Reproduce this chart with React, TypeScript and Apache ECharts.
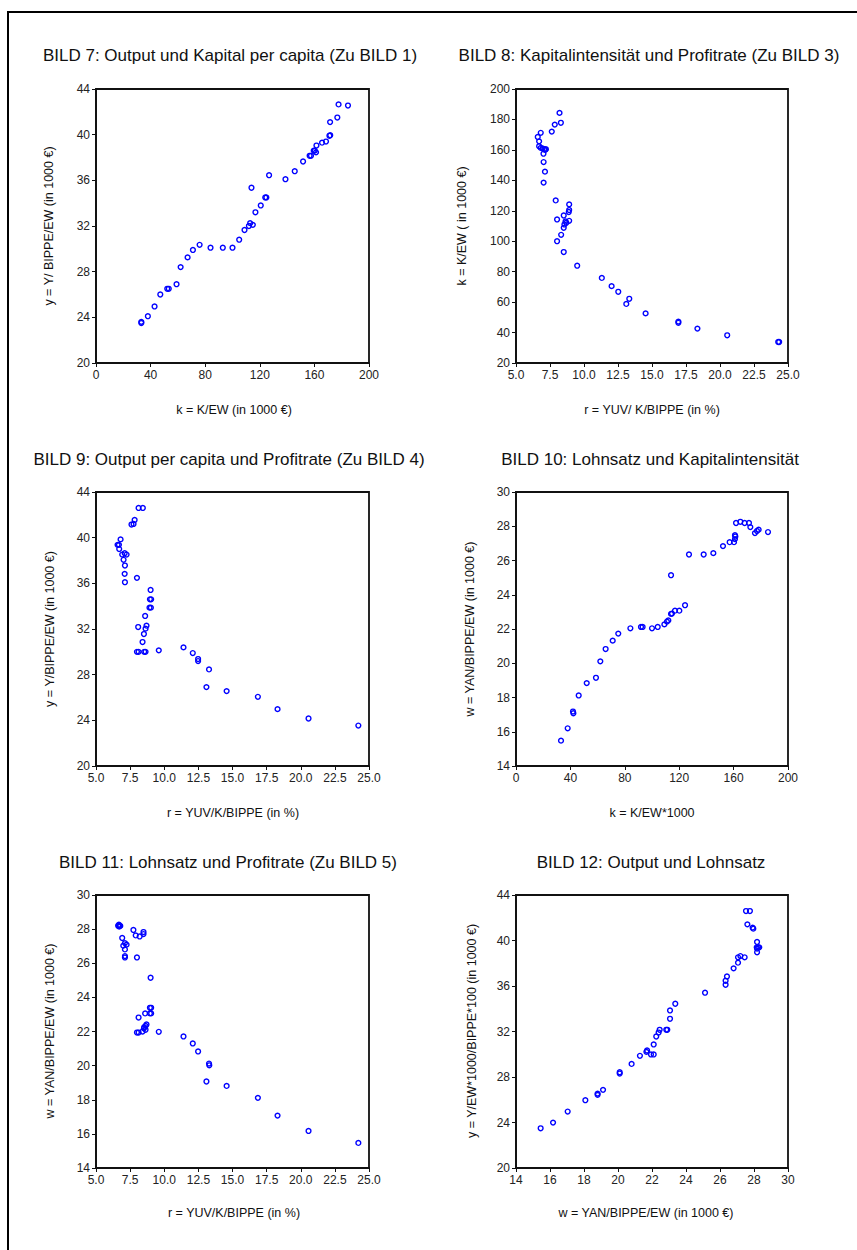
import React, { useEffect, useRef } from "react";
import * as echarts from "echarts";

// ---------- DATA ----------
// BILD 7: k (x) vs y (y)
const bild7: [number, number][] = [
  [33.2, 23.5], [33.2, 23.6], [38.0, 24.1], [42.9, 24.95], [47.1, 26.0], [52.2, 26.5], [53.3, 26.5],
  [59.0, 26.9], [62.0, 28.4], [67.1, 29.25], [71.0, 29.9], [75.9, 30.35], [83.9, 30.1], [92.9, 30.1],
  [100.0, 30.1], [104.9, 30.8], [108.8, 31.65], [112.0, 32.0], [112.9, 32.25], [114.9, 32.1],
  [113.9, 35.35], [116.8, 33.2], [120.7, 33.8], [124.0, 34.5], [124.8, 34.5], [126.8, 36.45],
  [138.8, 36.1], [145.6, 36.8], [151.7, 37.65], [156.5, 38.15], [157.5, 38.15], [159.5, 38.6],
  [160.3, 38.6], [161.2, 38.45], [161.5, 39.05], [165.6, 39.3], [168.5, 39.4], [171.0, 39.9],
  [171.6, 39.95], [171.5, 41.1], [176.8, 41.5], [177.7, 42.65], [184.6, 42.55],
];
// BILD 8: r (x) vs k (y)
const bild8: [number, number][] = [
  [6.6, 168.5], [6.82, 171.2], [6.7, 165.6], [6.7, 162.4], [6.82, 161.3], [6.95, 161.0], [7.07, 160.4],
  [7.15, 160.0], [7.2, 160.5], [7.02, 157.5], [7.03, 152.0], [7.13, 145.7], [7.03, 138.5], [7.63, 172.0],
  [7.85, 176.6], [8.3, 177.8], [8.2, 184.3], [7.92, 126.8], [8.02, 114.3], [8.91, 124.2], [8.91, 120.5],
  [8.88, 119.2], [8.51, 116.9], [8.64, 113.0], [8.7, 112.1], [8.56, 111.0], [8.91, 113.4], [8.51, 108.8],
  [8.32, 104.2], [8.02, 100.0], [8.51, 92.9], [9.5, 83.9], [11.31, 75.9], [12.03, 70.5], [12.52, 66.8],
  [13.33, 62.2], [13.11, 58.8], [14.53, 52.6], [16.94, 47.2], [16.94, 46.4], [18.34, 42.6], [20.53, 38.2],
  [24.28, 33.8], [24.35, 33.8],
];
// BILD 9: r (x) vs y (y)
const bild9: [number, number][] = [
  [8.12, 42.6], [8.43, 42.6], [7.83, 41.55], [7.6, 41.15], [7.75, 41.2], [6.8, 39.85], [6.58, 39.37],
  [6.68, 39.37], [6.7, 39.0], [6.92, 38.52], [7.1, 38.64], [7.24, 38.52], [7.02, 38.06], [7.12, 37.56],
  [7.1, 36.83], [7.12, 36.1], [8.0, 36.48], [9.0, 35.42], [8.95, 34.6], [9.04, 34.6], [8.92, 33.87],
  [9.02, 33.87], [8.6, 33.14], [8.7, 32.29], [8.63, 32.03], [8.09, 32.17], [8.51, 31.56], [8.41, 30.86],
  [8.0, 30.0], [8.12, 30.0], [8.53, 30.0], [8.63, 30.0], [9.6, 30.13], [11.41, 30.39], [12.09, 29.89],
  [12.48, 29.37], [12.48, 29.19], [13.28, 28.46], [13.09, 26.91], [14.57, 26.56], [16.86, 26.06],
  [18.3, 24.98], [20.57, 24.16], [24.22, 23.54],
];
// BILD 10: k (x) vs w (y)
const bild10: [number, number][] = [
  [33.1, 15.48], [38.0, 16.2], [41.9, 17.18], [42.2, 17.08], [46.1, 18.12], [52.0, 18.84], [58.8, 19.15],
  [62.0, 20.11], [65.9, 20.83], [71.1, 21.32], [75.2, 21.73], [84.1, 22.04], [91.9, 22.12], [93.1, 22.12],
  [100.0, 22.04], [104.2, 22.12], [109.1, 22.27], [111.0, 22.43], [112.0, 22.5], [114.0, 22.88],
  [114.7, 22.9], [116.9, 23.07], [120.1, 23.07], [124.3, 23.39], [114.0, 25.14], [127.2, 26.35],
  [138.0, 26.35], [145.1, 26.43], [152.2, 26.84], [157.1, 27.07], [160.3, 27.07], [161.0, 27.25],
  [161.0, 27.48], [161.3, 27.4], [161.8, 28.19], [165.0, 28.26], [168.1, 28.19], [171.3, 28.19],
  [172.3, 27.95], [175.7, 27.6], [177.2, 27.72], [178.4, 27.8], [185.3, 27.66],
];
// BILD 11: r (x) vs w (y)
const bild11: [number, number][] = [
  [6.62, 28.2], [6.68, 28.26], [6.72, 28.19], [6.78, 28.19], [6.7, 28.15], [7.74, 27.95], [7.91, 27.63],
  [8.2, 27.57], [8.48, 27.83], [8.48, 27.71], [6.92, 27.48], [7.12, 27.18], [7.24, 27.09], [7.0, 27.03],
  [7.12, 26.81], [7.12, 26.42], [7.12, 26.34], [8.0, 26.34], [9.0, 25.15], [8.95, 23.39], [9.04, 23.39],
  [8.95, 23.06], [9.04, 23.06], [8.6, 23.06], [8.12, 22.82], [8.7, 22.41], [8.63, 22.33], [8.53, 22.25],
  [8.51, 22.18], [8.63, 22.1], [8.41, 22.0], [8.0, 21.94], [8.12, 21.94], [9.6, 21.98], [11.41, 21.71],
  [12.09, 21.3], [12.48, 20.83], [13.28, 20.12], [13.3, 20.02], [13.09, 19.07], [14.57, 18.81],
  [16.86, 18.11], [18.3, 17.07], [20.57, 16.17], [24.22, 15.47],
];
// BILD 12: w (x) vs y (y)
const bild12: [number, number][] = [
  [15.45, 23.49], [16.18, 23.99], [17.04, 24.96], [18.08, 25.96], [18.8, 26.43], [18.8, 26.54],
  [19.12, 26.87], [20.1, 28.3], [20.1, 28.42], [20.8, 29.15], [21.29, 29.86], [21.71, 30.33],
  [21.67, 30.21], [21.94, 29.98], [22.1, 29.98], [22.1, 30.86], [22.25, 31.56], [22.39, 31.91],
  [22.45, 32.15], [22.84, 32.15], [22.9, 32.15], [23.06, 33.12], [23.06, 33.85], [23.37, 34.44],
  [25.12, 35.41], [26.33, 36.11], [26.33, 36.46], [26.41, 36.84], [26.8, 37.55], [27.06, 38.05],
  [27.06, 38.52], [27.2, 38.63], [27.45, 38.52], [27.53, 42.59], [27.76, 42.59], [27.61, 41.42],
  [27.92, 41.13], [27.96, 41.04], [28.18, 39.87], [28.16, 39.4], [28.24, 39.4], [28.31, 39.4],
  [28.18, 39.28], [28.18, 38.96],
];

const panelTitles = [
  "BILD 7: Output und Kapital per capita (Zu BILD 1)",
  "BILD 8: Kapitalintensität und Profitrate (Zu BILD 3)",
  "BILD 9: Output per capita und Profitrate (Zu BILD 4)",
  "BILD 10: Lohnsatz und Kapitalintensität",
  "BILD 11: Lohnsatz und Profitrate (Zu BILD 5)",
  "BILD 12: Output und Lohnsatz",
];
const xTitles = [
  "k = K/EW (in 1000 €)",
  "r = YUV/ K/BIPPE (in %)",
  "r = YUV/K/BIPPE (in %)",
  "k = K/EW*1000",
  "r = YUV/K/BIPPE (in %)",
  "w = YAN/BIPPE/EW (in 1000 €)",
];
const yTitles = [
  "y = Y/ BIPPE/EW (in 1000 €)",
  "k = K/EW ( in 1000 €)",
  "y = Y/BIPPE/EW (in 1000 €)",
  "w = YAN/BIPPE/EW (in 1000 €)",
  "w = YAN/BIPPE/EW (in 1000 €)",
  "y = Y/EW*1000/BIPPE*100 (in 1000 €)",
];
// axis ranges [min, max, interval, decimals]
const xRanges: [number, number, number, number][] = [
  [0, 200, 40, 0], [5, 25, 2.5, 1], [5, 25, 2.5, 1], [0, 200, 40, 0], [5, 25, 2.5, 1], [14, 30, 2, 0],
];
const yRanges: [number, number, number, number][] = [
  [20, 44, 4, 0], [20, 200, 20, 0], [20, 44, 4, 0], [14, 30, 2, 0], [14, 30, 2, 0], [20, 44, 4, 0],
];
const seriesData = [bild7, bild8, bild9, bild10, bild11, bild12];

// ---------- LAYOUT ----------
const gridBoxes = [
  { left: 96, top: 89, width: 273, height: 274 },
  { left: 516, top: 89, width: 272, height: 274 },
  { left: 96, top: 492, width: 273, height: 274 },
  { left: 516, top: 492, width: 272, height: 274 },
  { left: 96, top: 895, width: 273, height: 273 },
  { left: 516, top: 895, width: 272, height: 273 },
];
const titlePos = [
  [230, 55], [649, 55], [229, 459], [650, 459], [228, 862], [651, 862],
];
const xTitlePos = [
  [234, 410], [652, 410], [233, 813], [652, 813], [234, 1213], [646, 1213],
];
const yTitlePos = [
  [49, 226], [462, 226], [50, 629], [470, 629], [50, 1031], [472, 1031],
];

const FONT = '"Liberation Sans", Arial, Helvetica, sans-serif';
const AXIS_COLOR = "#111";

export default function App() {
  const ref = useRef<HTMLDivElement>(null);

  useEffect(() => {
    if (!ref.current) return;
    const chart = echarts.init(ref.current, undefined, { renderer: "svg" });

    const grid = gridBoxes.map((g) => ({
      ...g,
      show: true,
      borderColor: AXIS_COLOR,
      borderWidth: 1.8,
      backgroundColor: "#fff",
    }));

    const axisCommon = {
      axisLine: { show: true, onZero: false, lineStyle: { color: AXIS_COLOR, width: 1.8 } },
      axisTick: { show: true, inside: false, length: 4, lineStyle: { color: AXIS_COLOR, width: 1 } },
      splitLine: { show: false },
    };

    const makeLabel = (dec: number) => ({
      margin: 6,
      fontSize: 12,
      color: "#222",
      fontFamily: FONT,
      formatter: (v: number) => v.toFixed(dec),
    });

    const xAxis = xRanges.map(([min, max, interval, dec], i) => ({
      type: "value",
      gridIndex: i,
      min,
      max,
      interval,
      ...axisCommon,
      axisLabel: makeLabel(dec),
    }));
    const yAxis = yRanges.map(([min, max, interval, dec], i) => ({
      type: "value",
      gridIndex: i,
      min,
      max,
      interval,
      ...axisCommon,
      axisLabel: makeLabel(dec),
    }));

    const series = seriesData.map((d, i) => ({
      type: "scatter",
      xAxisIndex: i,
      yAxisIndex: i,
      data: d,
      symbol: "circle",
      symbolSize: 4.8,
      itemStyle: { color: "rgba(0,0,0,0)", borderColor: "#0000ff", borderWidth: 1.4, opacity: 1 },
      emphasis: { disabled: true },
    }));

    const graphics: any[] = [
      {
        type: "polyline",
        shape: { points: [[870, 12], [8, 12], [8, 1260]] },
        style: { stroke: "#000", lineWidth: 2, fill: null },
        z: 10,
      },
    ];
    panelTitles.forEach((t, i) => {
      graphics.push({
        type: "text",
        x: titlePos[i][0],
        y: titlePos[i][1],
        style: {
          text: t,
          font: `17px ${FONT}`,
          fill: "#111",
          textAlign: "center",
          textVerticalAlign: "middle",
        },
      });
    });
    xTitles.forEach((t, i) => {
      graphics.push({
        type: "text",
        x: xTitlePos[i][0],
        y: xTitlePos[i][1],
        style: {
          text: t,
          font: `12.5px ${FONT}`,
          fill: "#111",
          textAlign: "center",
          textVerticalAlign: "middle",
        },
      });
    });
    yTitles.forEach((t, i) => {
      graphics.push({
        type: "text",
        x: yTitlePos[i][0],
        y: yTitlePos[i][1],
        rotation: Math.PI / 2,
        style: {
          text: t,
          font: `12.5px ${FONT}`,
          fill: "#111",
          textAlign: "center",
          textVerticalAlign: "middle",
        },
      });
    });

    chart.setOption({
      animation: false,
      backgroundColor: "#fff",
      grid,
      xAxis,
      yAxis,
      series,
      graphic: { elements: graphics },
    });

    return () => chart.dispose();
  }, []);

  return (
    <div
      ref={ref}
      style={{ position: "absolute", left: 0, top: 0, width: 857, height: 1250, background: "#fff" }}
    />
  );
}
